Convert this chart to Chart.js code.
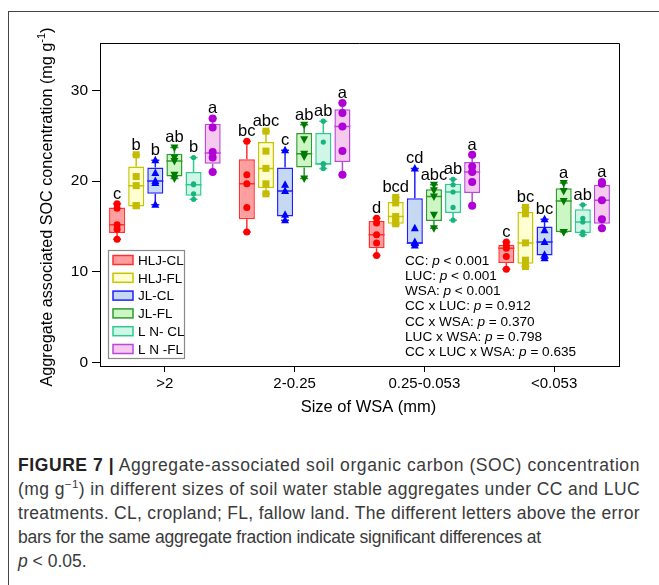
<!DOCTYPE html>
<html>
<head>
<meta charset="utf-8">
<script src="https://cdn.jsdelivr.net/npm/chart.js@4"></script>
<style>
body { margin: 0; background: #fff; width: 659px; height: 585px; overflow: hidden; position: relative; font-family: 'Liberation Sans', Arial, sans-serif; }
#frame { position: absolute; left: 8px; top: 11px; width: 700px; height: 700px; border: 1.5px solid #444; }
#chart { position: absolute; left: 0; top: 0; }
#caption { position: absolute; left: 18px; top: 453px; font-size: 17.5px; line-height: 24px; color: #3a3a3a; white-space: nowrap; }
#caption div span.line { display: inline-block; }
#caption b { color: #222; }
#caption sup { font-size: 11.5px; line-height: 0; }
</style>
</head>
<body>
<div id="frame"></div>
<canvas id="chart" width="659" height="440"></canvas>
<div id="caption">
<div><span class="line" data-w="622"><b>FIGURE 7 |</b> Aggregate-associated soil organic carbon (SOC) concentration</span></div>
<div><span class="line" data-w="622">(mg g<sup>&minus;1</sup>) in different sizes of soil water stable aggregates under CC and LUC</span></div>
<div><span class="line" data-w="622">treatments. CL, cropland; FL, fallow land. The different letters above the error</span></div>
<div><span class="line" data-w="523">bars for the same aggregate fraction indicate significant differences at</span></div>
<div><span class="line"><i>p</i> &lt; 0.05.</span></div>
</div>
<script>
// Aggregate fractions
const groups = ['>2', '2-0.25', '0.25-0.053', '<0.053'];
const seriesNames = ['HLJ-CL', 'HLJ-FL', 'JL-CL', 'JL-FL', 'L N- CL', 'L N -FL'];

// Box summaries per fraction: [min, q1, median, q3, max]
const hljClBox = [[13.6, 14.3, 15.2, 17.1, 17.5], [14.4, 15.8, 19.7, 22.4, 24.4], [11.8, 12.6, 14.1, 15.6, 15.9], [10.3, 11.0, 12.6, 13.0, 13.3]];
const hljFlBox = [[17.3, 17.2, 19.5, 21.6, 22.9], [18.6, 19.2, 21.4, 24.3, 25.5], [15.2, 15.3, 16.1, 17.7, 18.2], [10.6, 10.9, 13.2, 16.6, 17.1]];
const jlClBox = [[17.4, 18.6, 20.0, 21.5, 22.3], [15.7, 16.1, 18.9, 21.5, 23.4], [12.9, 13.1, 13.2, 18.1, 21.4], [11.5, 11.8, 13.3, 15.0, 15.8]];
const jlFlBox = [[20.3, 20.5, 22.2, 23.0, 23.7], [20.3, 21.5, 23.0, 25.3, 26.2], [14.8, 15.6, 18.3, 19.1, 19.6], [14.4, 14.4, 17.8, 19.2, 19.8]];
const lnClBox = [[18.0, 18.4, 19.6, 21.0, 22.6], [21.4, 21.8, 21.9, 25.3, 26.6], [15.7, 16.5, 18.8, 19.7, 20.2], [14.1, 14.3, 15.5, 16.9, 17.4]];
const lnFlBox = [[21.0, 21.9, 23.1, 26.3, 26.9], [20.7, 22.1, 26.0, 27.9, 28.6], [17.3, 18.7, 21.0, 22.1, 22.9], [14.8, 15.3, 17.9, 19.6, 19.9]];

// Individual replicates
const hljClPts = [[17.5, 17.0, 15.2, 14.7, 13.6], [24.4, 20.7, 19.7, 17.1, 14.4], [15.9, 15.4, 14.1, 13.2, 11.8], [13.3, 12.9, 12.6, 11.7, 10.3]];
const hljFlPts = [[22.9, 20.5, 19.5, 17.3, 17.3], [25.5, 23.3, 21.4, 19.7, 18.6], [18.2, 17.6, 16.1, 15.7, 15.3], [17.1, 16.4, 13.2, 11.3, 10.6]];
const jlClPts = [[22.3, 20.9, 20.0, 19.8, 17.4], [23.4, 19.6, 18.9, 16.3, 15.7], [21.4, 14.8, 13.3, 13.2, 12.9], [15.8, 14.6, 13.3, 11.9, 11.5]];
const jlFlPts = [[23.7, 22.6, 22.2, 20.7, 20.3], [26.2, 24.6, 23.0, 22.7, 20.3], [19.6, 19.0, 18.3, 16.3, 14.8], [19.8, 18.9, 17.8, 14.4, 14.4]];
const lnClPts = [[22.6, 19.7, 19.6, 18.6, 18.0], [26.6, 24.3, 21.9, 21.9, 21.4], [20.2, 19.6, 18.8, 17.1, 15.7], [17.4, 15.9, 15.5, 14.4, 14.1]];
const lnFlPts = [[26.9, 25.9, 23.2, 22.6, 21.0], [28.6, 27.5, 26.0, 23.3, 20.7], [22.9, 21.6, 21.0, 19.9, 17.3], [19.9, 19.7, 17.9, 15.8, 14.8]];

// Significance letters
const hljClLetters = ['c', 'bc', 'd', 'c'];
const hljFlLetters = ['b', 'abc', 'bcd', 'bc'];
const jlClLetters = ['b', 'c', 'cd', 'bc'];
const jlFlLetters = ['ab', 'ab', 'abc', 'a'];
const lnClLetters = ['b', 'ab', 'ab', 'ab'];
const lnFlLetters = ['a', 'a', 'a', 'a'];

const yTicks = [0, 10, 20, 30];

const statLabels = ['CC:', 'LUC:', 'WSA:', 'CC x LUC:', 'CC x WSA:', 'LUC x WSA:', 'CC x LUC x WSA:'];
const statValues = ['< 0.001', '< 0.001', '< 0.001', '= 0.912', '= 0.370', '= 0.798', '= 0.635'];

const allBoxes = [hljClBox, hljFlBox, jlClBox, jlFlBox, lnClBox, lnFlBox];
const allPts = [hljClPts, hljFlPts, jlClPts, jlFlPts, lnClPts, lnFlPts];
const allLetters = [hljClLetters, hljFlLetters, jlClLetters, jlFlLetters, lnClLetters, lnFlLetters];

const strokeColors = ['#ff3030', '#c8c400', '#2020ff', '#2f9a2f', '#2ecb90', '#b84ad8'];
const fillColors = ['#ff9e9e', '#ffffd2', '#c6d9f3', '#ccf7c4', '#cff6e6', '#f6c9ee'];
const pointColors = ['#ff0000', '#c4bc00', '#0000ff', '#007a00', '#17b47c', '#b000d6'];
const markers = ['circle', 'square', 'triUp', 'triDown', 'dot', 'bigCircle'];

const FONT = "'Liberation Sans', Arial, sans-serif";

// stretch caption lines to the widths of the printed figure
document.querySelectorAll('#caption .line').forEach(el => {
    const target = Number(el.dataset.w);
    if (!target) return;
    const w = el.getBoundingClientRect().width;
    const n = el.textContent.length;
    el.style.letterSpacing = ((target - w) / n) + 'px';
});

function drawMarker(ctx, kind, x, y) {
    ctx.beginPath();
    if (kind === 'circle') ctx.arc(x, y, 3.5, 0, Math.PI * 2);
    else if (kind === 'bigCircle') ctx.arc(x, y, 4, 0, Math.PI * 2);
    else if (kind === 'dot') ctx.arc(x, y, 2.6, 0, Math.PI * 2);
    else if (kind === 'square') ctx.rect(x - 3.5, y - 3.5, 7, 7);
    else if (kind === 'triUp') { ctx.moveTo(x, y - 4.5); ctx.lineTo(x + 4, y + 3); ctx.lineTo(x - 4, y + 3); ctx.closePath(); }
    else if (kind === 'triDown') { ctx.moveTo(x, y + 4.5); ctx.lineTo(x + 4, y - 3); ctx.lineTo(x - 4, y - 3); ctx.closePath(); }
    ctx.fill();
}

const boxExtras = {
    id: 'boxExtras',
    afterDatasetsDraw(chart) {
        const ctx = chart.ctx;
        const yScale = chart.scales.y;
        ctx.save();
        chart.data.datasets.forEach((ds, di) => {
            const meta = chart.getDatasetMeta(di);
            meta.data.forEach((bar, gi) => {
                const s = allBoxes[di][gi];
                const x = bar.x;
                const half = bar.width / 2;
                const py = v => yScale.getPixelForValue(v);
                ctx.strokeStyle = strokeColors[di];
                ctx.lineWidth = 1.5;
                // whiskers
                ctx.beginPath();
                ctx.moveTo(x, py(s[3])); ctx.lineTo(x, py(s[4]));
                ctx.moveTo(x, py(s[1])); ctx.lineTo(x, py(s[0]));
                ctx.moveTo(x - 4, py(s[4])); ctx.lineTo(x + 4, py(s[4]));
                ctx.moveTo(x - 4, py(s[0])); ctx.lineTo(x + 4, py(s[0]));
                // median
                ctx.moveTo(x - half, py(s[2])); ctx.lineTo(x + half, py(s[2]));
                ctx.stroke();
                // points
                ctx.fillStyle = pointColors[di];
                allPts[di][gi].forEach(v => drawMarker(ctx, markers[di], x, py(v)));
                // letter
                ctx.fillStyle = '#000';
                ctx.font = '16.5px ' + FONT;
                ctx.textAlign = 'center';
                ctx.textBaseline = 'alphabetic';
                ctx.fillText(allLetters[di][gi], x, py(s[4]) - 5);
            });
        });
        ctx.restore();
    },
    afterDraw(chart) {
        const ctx = chart.ctx;
        const a = chart.chartArea;
        ctx.save();
        // top and right frame
        ctx.strokeStyle = '#000';
        ctx.lineWidth = 1;
        ctx.beginPath();
        ctx.moveTo(a.left, a.top + 0.5); ctx.lineTo(a.right + 0.5, a.top + 0.5); ctx.lineTo(a.right + 0.5, a.bottom);
        ctx.stroke();

        // legend
        const lx = a.left + 8, ly = a.bottom - 116;
        ctx.strokeStyle = '#8a8a8a';
        ctx.lineWidth = 1.2;
        ctx.strokeRect(lx + 0.5, ly + 0.5, 76, 108);
        ctx.font = '13.5px ' + FONT;
        ctx.textAlign = 'left';
        ctx.textBaseline = 'middle';
        seriesNames.forEach((name, i) => {
            const ry = ly + 10 + i * 17.8;
            ctx.fillStyle = fillColors[i];
            ctx.fillRect(lx + 5, ry - 4.5, 20, 9);
            ctx.strokeStyle = strokeColors[i];
            ctx.lineWidth = 1.5;
            ctx.strokeRect(lx + 5, ry - 4.5, 20, 9);
            ctx.fillStyle = '#000';
            ctx.fillText(name, lx + 30, ry + 1);
        });

        // statistics
        ctx.fillStyle = '#000';
        statLabels.forEach((lab, i) => {
            const ty = a.top + 218 + i * 15.2;
            let tx = a.left + 305;
            ctx.font = '13.6px ' + FONT;
            ctx.fillText(lab + ' ', tx, ty);
            tx += ctx.measureText(lab + ' ').width;
            ctx.font = 'italic 13.6px ' + FONT;
            ctx.fillText('p', tx, ty);
            tx += ctx.measureText('p ').width;
            ctx.font = '13.6px ' + FONT;
            ctx.fillText(statValues[i], tx, ty);
        });

        // x title
        ctx.font = '16.5px ' + FONT;
        ctx.textAlign = 'center';
        ctx.fillText('Size of WSA (mm)', (a.left + a.right) / 2 + 9, a.bottom + 41);

        // y title with superscript
        const main = 'Aggregate associated SOC concentration (mg g';
        ctx.font = '16.2px ' + FONT;
        const w1 = ctx.measureText(main).width;
        const w3 = ctx.measureText(')').width;
        ctx.font = '11px ' + FONT;
        const w2 = ctx.measureText('-1').width;
        const total = w1 + w2 + w3;
        ctx.translate(46, 207);
        ctx.rotate(-Math.PI / 2);
        ctx.textAlign = 'left';
        ctx.textBaseline = 'alphabetic';
        ctx.font = '16.2px ' + FONT;
        ctx.fillText(main, -total / 2, 6);
        ctx.font = '11px ' + FONT;
        ctx.fillText('-1', -total / 2 + w1, -1);
        ctx.font = '16.2px ' + FONT;
        ctx.fillText(')', -total / 2 + w1 + w2, 6);
        ctx.restore();
    }
};

const datasets = seriesNames.map((name, i) => ({
    label: name,
    data: allBoxes[i].map(b => [b[1], b[3]]),
    backgroundColor: fillColors[i],
    borderColor: strokeColors[i],
    borderWidth: 1.5,
    borderSkipped: false,
    categoryPercentage: 0.884,
    barPercentage: 0.84
}));

new Chart(document.getElementById('chart'), {
    type: 'bar',
    data: { labels: groups, datasets: datasets },
    plugins: [boxExtras],
    options: {
        responsive: false,
        animation: false,
        layout: { padding: { top: 43, right: 40, left: 0, bottom: 0 } },
        plugins: { legend: { display: false }, tooltip: { enabled: false } },
        scales: {
            x: {
                grid: { offset: false, drawOnChartArea: false, tickLength: 6, color: '#000' },
                border: { display: true, color: '#000', width: 1 },
                ticks: { color: '#000', font: { size: 15, family: FONT }, padding: 3 },
                afterFit: scale => { scale.height = 74; }
            },
            y: {
                min: -0.35,
                max: 35.2,
                afterBuildTicks: scale => { scale.ticks = yTicks.map(v => ({ value: v })); },
                grid: { drawOnChartArea: false, tickLength: 8, color: '#000' },
                border: { display: true, color: '#000', width: 1 },
                ticks: { color: '#000', font: { size: 15.5, family: FONT }, padding: 4 },
                afterFit: scale => { scale.width = 100; }
            }
        }
    }
});
</script>
</body>
</html>
